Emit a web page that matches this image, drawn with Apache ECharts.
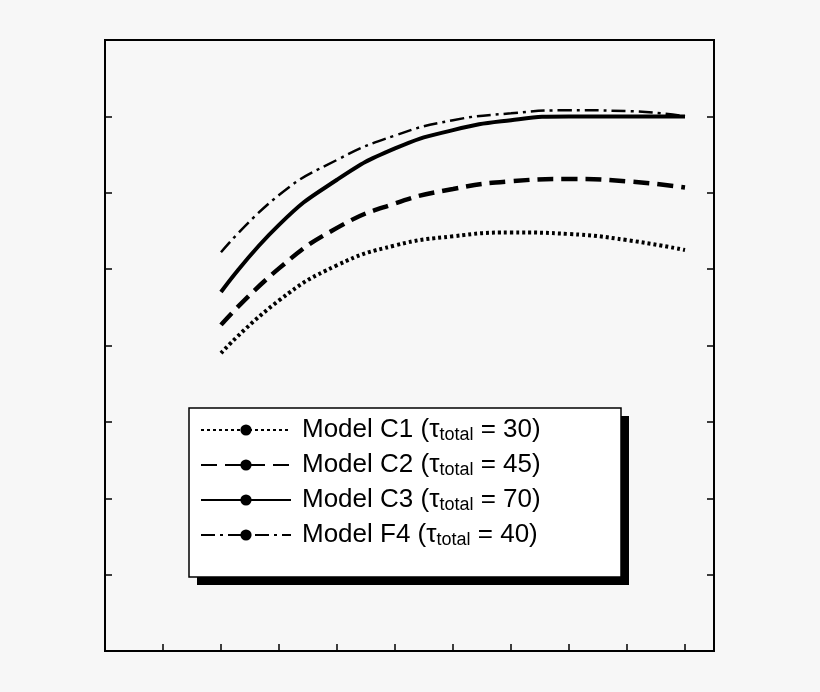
<!DOCTYPE html><html><head><meta charset="utf-8"><script src="https://cdn.jsdelivr.net/npm/echarts@6/dist/echarts.min.js"></script></head>
<body style="margin:0;background:#f7f7f7"><div id="c" style="width:820px;height:692px"></div>
<script>
const xs=[2,3,4,5,6,7,8,9,10];
const c1=[3.90,4.59,5.05,5.31,5.43,5.48,5.46,5.38,5.25];
const c2=[4.27,5.01,5.54,5.86,6.05,6.15,6.18,6.15,6.07];
const c3=[4.70,5.58,6.17,6.58,6.82,6.95,7.00,7.00,7.00];
const f4=[5.22,5.97,6.43,6.75,6.95,7.04,7.08,7.07,7.00];
const names=['C1','C2','C3','F4'];const taus=[30,45,70,40];
const pair=a=>xs.map((x,i)=>[x,a[i]]);
const styles=[{width:4,type:[3,3]},{width:4.5,type:[16,8]},{width:4,type:'solid'},{width:2.5,type:[14,5,3,5]}];
const data=[c1,c2,c3,f4];
const ser=data.map((d,i)=>({name:'Model '+names[i],type:'line',smooth:true,symbol:'none',data:pair(d),lineStyle:Object.assign({color:'#000'},styles[i]),itemStyle:{color:'#000'}}));
const ch=echarts.init(document.getElementById('c'));
const tick={inside:true,length:7,lineStyle:{color:'#000',width:1.5}};
ch.setOption({backgroundColor:'#f7f7f7',animation:false,
grid:{left:105,top:40,width:609,height:611,show:true,borderColor:'#000',borderWidth:2,backgroundColor:'transparent'},
xAxis:{type:'value',min:0,max:10.5,interval:1,axisLine:{show:false},splitLine:{show:false},axisLabel:{show:false},axisTick:tick},
yAxis:[{type:'value',min:0,max:8,interval:1,axisLine:{show:false},splitLine:{show:false},axisLabel:{show:false},axisTick:tick},
{type:'value',position:'right',min:0,max:8,interval:1,axisLine:{show:false},splitLine:{show:false},axisLabel:{show:false},axisTick:tick}],
graphic:[{type:'rect',z:1,shape:{x:197,y:416,width:432,height:169},style:{fill:'#000'}},
{type:'rect',z:2,shape:{x:189,y:408,width:432,height:169},style:{fill:'#fff',stroke:'#000',lineWidth:1.5}}],
legend:{z:10,left:200,top:417,orient:'vertical',padding:0,itemGap:8,itemWidth:90,itemHeight:14,
formatter:n=>{const i=names.indexOf(n.split(' ')[1]);return '{a|'+n+' (τ}{s|total}{a| = '+taus[i]+')}';},
textStyle:{padding:[0,0,0,6],rich:{a:{fontFamily:'Liberation Sans',fontSize:26,color:'#000'},s:{fontFamily:'Liberation Sans',fontSize:18,color:'#000',verticalAlign:'bottom',padding:[10,0,0,0]}}},
data:ser.map(s=>s.name)},
series:ser});
</script></body></html>
